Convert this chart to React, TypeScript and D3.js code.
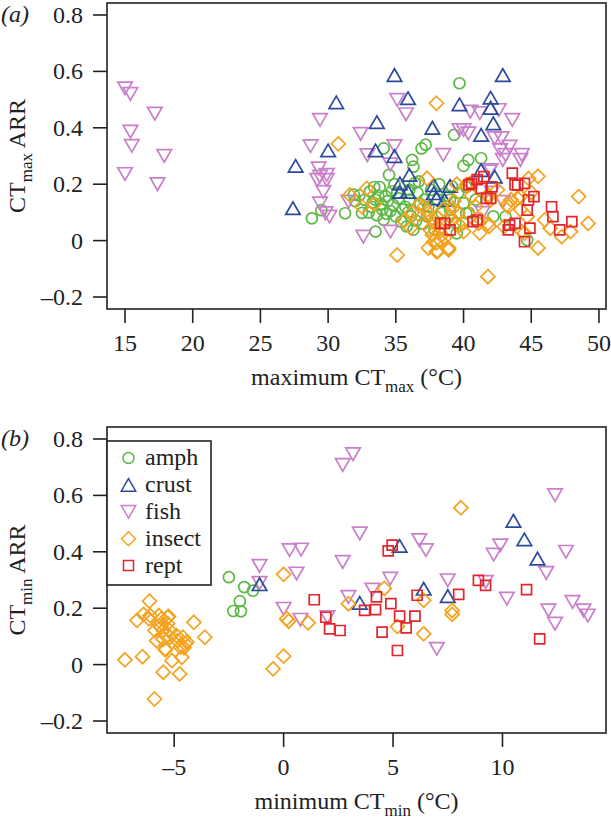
import React from "react";
import * as d3 from "d3";

// ---------- data: panel (a) maximum CTmax vs CTmax ARR ----------
const maxAmph: [number, number][] = [
  [28.8,0.079],[29.5,0.108],[31.25,0.097],[31.9,0.163],[32.5,0.098],[32.7,0.145],[33.1,0.175],[33.2,0.12],
  [33.5,0.032],[33.5,0.145],[33.8,0.19],[34.0,0.11],[34.1,0.074],[34.25,0.157],[34.5,0.233],[34.7,0.175],
  [34.8,0.127],[35.0,0.086],[35.4,0.068],[35.7,0.12],[36.0,0.145],[36.1,0.086],[36.3,0.039],[36.4,0.204],
  [36.9,0.327],[37.2,0.34],[34.1,0.327],[36.2,0.286],[36.3,0.262],[37.1,0.145],[37.3,0.086],[37.4,0.12],
  [37.85,0.039],[38.1,0.145],[38.4,0.098],[33.4,0.19],[39.3,0.375],[39.7,0.558],[40.0,0.265],[40.35,0.286],
  [41.3,0.292],[39.6,0.169],[40.0,0.133],[40.4,0.098],[39.4,0.063],[39.0,0.11],[42.2,0.086],[44.7,0.002],
  [43.1,0.085],[40.2,0.097],[39.5,0.026],[39.15,0.192],[39.0,0.145],[40.2,0.19],[40.9,0.145],[32.0,0.14],
  [32.3,0.16],[33.0,0.1],[33.7,0.16],[34.4,0.14],[35.2,0.15],[35.5,0.11],[36.6,0.17],[36.8,0.13],
  [37.6,0.18],[38.2,0.2],[36.5,0.07],[35.8,0.05],[34.3,0.095],[38.8,0.16],
  [33.3,0.135],[33.9,0.13],[34.6,0.105],[35.1,0.17],[35.9,0.1],[36.7,0.21],[37.0,0.06],[33.6,0.09],
  [34.9,0.2],[36.0,0.18]
];
const maxCrust: [number, number][] = [
  [27.4,0.115],[27.6,0.265],[30.0,0.32],[30.6,0.49],[33.5,0.32],[33.6,0.42],[34.9,0.587],[34.9,0.3],
  [35.9,0.505],[36.0,0.233],[35.3,0.203],[35.3,0.173],[35.9,0.173],[37.7,0.4],[37.8,0.197],[37.8,0.168],
  [38.0,0.15],[38.6,0.144],[39.0,0.194],[39.7,0.483],[41.3,0.375],[41.3,0.25],[42.0,0.507],[42.0,0.471],
  [42.2,0.416],[42.3,0.227],[42.9,0.587]
];
const maxFish: [number, number][] = [
  [15.0,0.54],[15.4,0.52],[17.2,0.45],[15.4,0.386],[15.5,0.336],[15.0,0.236],[17.4,0.2],[17.9,0.3],
  [29.4,0.428],[28.7,0.335],[32.4,0.378],[35.1,0.499],[35.75,0.448],[32.9,0.303],[34.9,0.335],[29.3,0.256],
  [29.4,0.227],[29.9,0.233],[29.2,0.215],[29.9,0.215],[29.65,0.173],[29.4,0.132],[29.8,0.097],[30.1,0.085],
  [31.5,0.138],[32.6,0.014],[34.6,0.032],[34.6,0.27],[38.5,0.304],[40.5,0.457],[41.2,0.452],[42.6,0.463],
  [43.6,0.428],[40.0,0.392],[40.35,0.38],[39.7,0.392],[42.3,0.363],[42.8,0.363],[43.4,0.333],[42.7,0.321],
  [43.1,0.304],[44.3,0.304],[44.2,0.286],[42.9,0.286],[42.0,0.25],[42.9,0.137],[41.4,0.098],[41.9,0.245],
  [42.1,0.17]
];
const maxInsect: [number, number][] = [
  [30.75,0.343],[38.0,0.487],[31.6,0.162],[32.85,0.185],[32.5,0.12],[35.1,-0.051],[36.7,0.126],[37.3,0.221],
  [36.7,0.092],[37.1,0.121],[37.4,0.098],[36.1,0.045],[37.7,0.021],[37.4,-0.026],[38.0,-0.008],[38.1,-0.038],
  [38.9,-0.026],[37.8,-0.004],[38.0,-0.039],[38.9,-0.033],[38.2,0.03],[38.4,0.05],[37.9,0.06],[38.6,0.01],
  [38.3,0.0],[39.0,0.086],[39.6,0.098],[40.0,0.063],[40.2,0.198],[40.5,0.203],[41.2,0.027],[41.3,0.074],
  [41.9,0.051],[41.8,-0.128],[41.9,0.157],[41.8,0.162],[42.0,0.144],[43.2,0.127],[43.5,0.145],[44.0,0.15],
  [44.2,0.11],[44.5,0.027],[44.3,0.032],[45.5,0.228],[44.8,0.22],[45.5,-0.026],[46.0,0.073],[46.4,0.044],
  [47.25,0.014],[47.9,0.032],[48.5,0.156],[49.2,0.061],[43.3,0.12],[44.7,0.085],[44.2,0.156],[41.1,0.061],
  [41.8,0.061],[40.0,0.032],[39.7,0.055],[40.6,0.16],[40.9,0.12],[39.3,0.14],[38.5,0.11],[36.2,0.1],
  [33.4,0.13],[35.6,0.07],[42.5,0.18],[43.0,0.05],[39.5,0.2],[45.0,0.17],
  [38.0,0.085],[38.7,0.07],[39.2,0.115],[37.6,0.075],[38.4,0.02],[37.5,0.04]
];
const maxRept: [number, number][] = [
  [40.4,0.198],[41.0,0.216],[41.5,0.227],[41.3,0.185],[42.1,0.191],[42.0,0.15],[41.7,0.15],[43.6,0.239],
  [43.8,0.198],[44.0,0.197],[44.5,0.203],[45.2,0.156],[44.7,0.108],[44.8,0.144],[44.9,0.044],[43.4,0.055],
  [43.3,0.038],[43.8,0.061],[44.5,-0.004],[46.5,0.12],[46.6,0.085],[47.1,0.038],[48.0,0.067],[40.7,0.067],
  [41.0,0.073],[38.3,0.061],[39.0,0.038],[38.6,0.061],[40.6,0.203]
];

// ---------- data: panel (b) minimum CTmin vs CTmin ARR ----------
const minAmph: [number, number][] = [
  [-2.5,0.31],[-1.8,0.275],[-1.4,0.262],[-2.0,0.225],[-2.3,0.19],[-1.95,0.189]
];
const minCrust: [number, number][] = [
  [-1.1,0.285],[3.48,0.219],[5.3,0.421],[6.4,0.269],[7.5,0.243],[10.5,0.51],[11.0,0.444],[11.6,0.376]
];
const minFish: [number, number][] = [
  [2.7,0.708],[3.17,0.746],[-1.1,0.35],[-1.1,0.29],[0.27,0.406],[0.8,0.408],[0.59,0.323],[0.0,0.198],
  [0.77,0.159],[2.0,0.168],[2.7,0.364],[2.96,0.24],[3.48,0.465],[4.06,0.266],[4.87,0.305],[6.2,0.441],
  [6.5,0.406],[7.5,0.299],[7.0,0.056],[9.23,0.293],[9.6,0.39],[9.9,0.423],[10.2,0.234],[12.0,0.325],
  [12.1,0.192],[12.4,0.145],[12.4,0.601],[12.9,0.4],[13.2,0.222],[13.7,0.192],[13.9,0.174]
];
const minInsect: [number, number][] = [
  [-7.25,0.017],[-6.45,0.028],[-6.7,0.157],[-6.13,0.225],[-6.4,0.178],[-6.15,0.162],[-5.9,-0.122],[-5.8,0.085],
  [-5.87,0.121],[-5.5,-0.027],[-5.4,0.052],[-5.6,0.133],[-5.7,0.174],[-5.3,0.168],[-5.5,0.121],[-5.2,0.097],
  [-5.1,0.014],[-5.3,0.145],[-4.75,-0.033],[-4.65,0.026],[-4.6,0.097],[-4.5,0.074],[-4.42,0.08],[-4.85,0.085],
  [-4.9,0.103],[-4.1,0.15],[-3.6,0.097],[-5.5,0.09],[-5.7,0.139],[-4.55,0.06],[-5.26,0.171],[-5.57,0.163],
  [-6.1,0.174],[-5.2,0.121],[-4.72,0.062],[-5.41,0.056],
  [0.0,0.32],[0.14,0.163],[0.23,0.154],[1.12,0.148],[0.0,0.03],[-0.48,-0.015],[2.96,0.216],[4.6,0.27],
  [5.2,0.135],[6.4,0.228],[6.4,0.109],[7.7,0.192],[7.7,0.178],[8.1,0.556]
];
const minRept: [number, number][] = [
  [1.4,0.23],[1.93,0.168],[2.1,0.127],[2.58,0.121],[3.7,0.192],[4.2,0.195],[4.24,0.24],[4.5,0.115],
  [4.78,0.403],[4.96,0.424],[4.9,0.216],[5.2,0.05],[5.3,0.172],[5.6,0.13],[6.0,0.172],[6.1,0.246],
  [8.0,0.249],[8.9,0.299],[9.23,0.281],[11.1,0.266],[11.7,0.091]
];

const groupNames = ["amph", "crust", "fish", "insect", "rept"];
const groupColors = ["#5DB847", "#2B4A9C", "#C97FC9", "#F4A21D", "#E3262E"];
const groupShapes = ["circle", "up", "down", "diamond", "square"];

const maxTicksX = [15, 20, 25, 30, 35, 40, 45, 50];
const minTicksX = [-5, 0, 5, 10];
const ticksY = [-0.2, 0, 0.2, 0.4, 0.6, 0.8];

const FONT = "'Liberation Serif', 'Times New Roman', Times, serif";
const FS = 24;

function symbolPath(shape: string, cx: number, cy: number): string {
  if (shape === "circle") {
    const r = 5.5;
    return `M${cx - r},${cy}a${r},${r} 0 1,0 ${2 * r},0a${r},${r} 0 1,0 ${-2 * r},0Z`;
  }
  if (shape === "up" || shape === "down") {
    const s = 14.5, h = s * 0.866;
    const d = shape === "up" ? 1 : -1;
    return `M${cx},${cy - d * h / 2}L${cx + s / 2},${cy + d * h / 2}L${cx - s / 2},${cy + d * h / 2}Z`;
  }
  if (shape === "diamond") {
    const r = 7;
    return `M${cx},${cy - r}L${cx + r},${cy}L${cx},${cy + r}L${cx - r},${cy}Z`;
  }
  const a = 5;
  return `M${cx - a},${cy - a}H${cx + a}V${cy + a}H${cx - a}Z`;
}

function fmt(v: number): string {
  const s = d3.format("")(+Math.abs(v).toFixed(1));
  return v < 0 ? "\u2013" + s : s;
}

type PanelProps = {
  top: number;
  xDomain: [number, number];
  xTicks: number[];
  groups: [number, number][][];
  label: string;
  xTitle: string;
  sub: string;
  legend: boolean;
};

function Panel({ top, xDomain, xTicks, groups, label, xTitle, sub, legend }: PanelProps) {
  const x0 = 107, x1 = 606, y0 = top, y1 = top + 306;
  const x = d3.scaleLinear().domain(xDomain).range([x0, x1]);
  const y = d3.scaleLinear().domain([-0.2425, 0.8425]).range([y1, y0]);
  const tick = 14;
  const order = [0, 2, 1, 3, 4];
  return (
    <g>
      {order.map((gi) => (
        <g key={gi} fill="none" stroke={groupColors[gi]} strokeWidth={1.7}>
          {groups[gi].map((p, i) => (
            <path key={i} d={symbolPath(groupShapes[gi], x(p[0]), y(p[1]))} />
          ))}
        </g>
      ))}
      <rect x={x0} y={y0} width={x1 - x0} height={y1 - y0} fill="none" stroke="#222" strokeWidth={1.6} />
      {ticksY.map((t) => (
        <g key={t}>
          <line x1={x0 - tick} x2={x0} y1={y(t)} y2={y(t)} stroke="#222" strokeWidth={1.6} />
          <text x={x0 - 24} y={y(t) + 8} textAnchor="end" fontSize={FS} fontFamily={FONT} fill="#222">
            {fmt(t)}
          </text>
        </g>
      ))}
      {xTicks.map((t) => (
        <g key={t}>
          <line x1={x(t)} x2={x(t)} y1={y1} y2={y1 + tick} stroke="#222" strokeWidth={1.6} />
          <text x={x(t)} y={y1 + 42} textAnchor="middle" fontSize={FS} fontFamily={FONT} fill="#222">
            {fmt(t)}
          </text>
        </g>
      ))}
      <text x={(x0 + x1) / 2} y={y1 + 76} textAnchor="middle" fontSize={FS} fontFamily={FONT} fill="#222">
        {xTitle} CT
        <tspan fontSize={17} dy={7}>{sub}</tspan>
        <tspan dy={-7}> (°C)</tspan>
      </text>
      <text
        transform={`translate(25,${(y0 + y1) / 2}) rotate(-90)`}
        textAnchor="middle"
        fontSize={FS}
        fontFamily={FONT}
        fill="#222"
      >
        CT
        <tspan fontSize={17} dy={7}>{sub}</tspan>
        <tspan dy={-7}> ARR</tspan>
      </text>
      <text x={1} y={y0 + 19} fontSize={FS} fontFamily={FONT} fontStyle="italic" fill="#222">
        ({label})
      </text>
      {legend && (
        <g>
          <rect x={107} y={y0 + 14} width={104} height={144} fill="white" stroke="#222" strokeWidth={1.6} />
          {groupNames.map((n, i) => (
            <g key={n}>
              <path
                d={symbolPath(groupShapes[i], 128.5, y0 + 31 + i * 26.9)}
                fill="none"
                stroke={groupColors[i]}
                strokeWidth={1.5}
              />
              <text x={145} y={y0 + 38 + i * 26.9} fontSize={FS} fontFamily={FONT} fill="#222">
                {n}
              </text>
            </g>
          ))}
        </g>
      )}
    </g>
  );
}

export default function App() {
  return (
    <svg
      width={611}
      height={821}
      viewBox="0 0 611 821"
      style={{ position: "absolute", left: 0, top: 0, background: "white" }}
    >
      <rect width={611} height={821} fill="white" />
      <Panel
        top={3}
        xDomain={[13.67, 50.52]}
        xTicks={maxTicksX}
        groups={[maxAmph, maxCrust, maxFish, maxInsect, maxRept]}
        label="a"
        xTitle="maximum"
        sub="max"
        legend={false}
      />
      <Panel
        top={427}
        xDomain={[-8.07, 14.73]}
        xTicks={minTicksX}
        groups={[minAmph, minCrust, minFish, minInsect, minRept]}
        label="b"
        xTitle="minimum"
        sub="min"
        legend={true}
      />
    </svg>
  );
}
